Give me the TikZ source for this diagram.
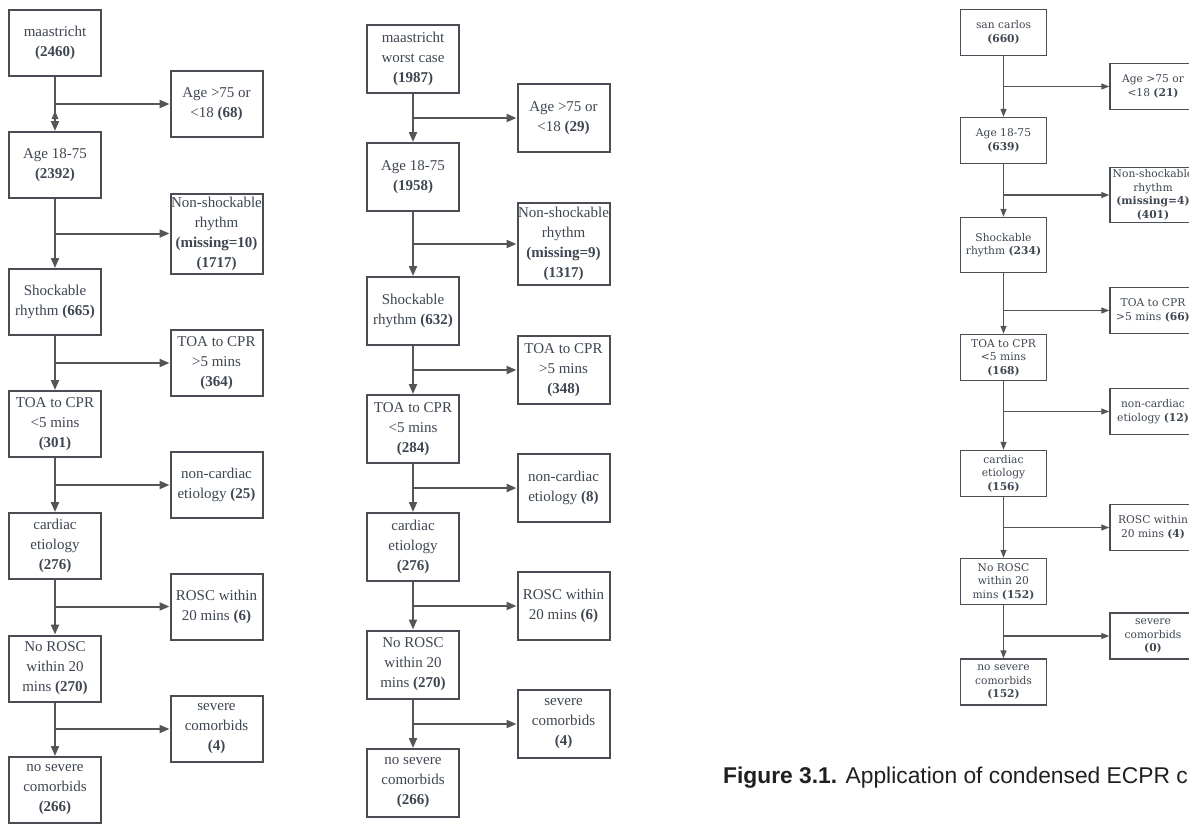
\documentclass[tikz,border=0pt]{standalone}
\usepackage{fontspec}
\setmainfont{Liberation Serif}
\newfontfamily\rfont{DejaVu Serif}
\newfontfamily\capfont{Liberation Sans}
\usetikzlibrary{arrows.meta,calc}
\definecolor{boxc}{HTML}{4A4E54}
\definecolor{txtc}{HTML}{3E4651}
\definecolor{linec}{HTML}{555555}
\begin{document}
\begin{tikzpicture}[x=1pt,y=-1pt,
  bx/.style={draw=boxc,line width=2pt,fill=white,minimum width=92pt,minimum height=66pt,inner sep=0pt,align=center,text=txtc,font=\fontsize{15}{20}\selectfont},
  rbx/.style={draw=boxc,line width=1.4pt,fill=white,minimum width=86pt,minimum height=46pt,inner sep=0pt,align=center,text=txtc,font=\rfont\fontsize{10.7}{13.5}\selectfont},
  arr/.style={draw=linec,line width=2pt,-{Triangle[length=10pt,width=8pt]}},
  rarr/.style={draw=linec,line width=1.3pt,-{Triangle[length=8pt,width=6pt]}},
]
\useasboundingbox (0,0) rectangle (1189,823);
\clip (0,0) rectangle (1189,823);

% ---------------- left column ----------------
\node[bx] (a1) at (55,43) {maastricht\\\textbf{(2460)}};
\node[bx] (a2) at (55,165) {Age 18-75\\\textbf{(2392)}};
\node[bx] (a3) at (55,302) {Shockable\\rhythm \textbf{(665)}};
\node[bx] (a4) at (55,424) {TOA to CPR\\<5 mins\\\textbf{(301)}};
\node[bx] (a5) at (55,546) {cardiac\\etiology\\\textbf{(276)}};
\node[bx] (a6) at (55,668.5) {No ROSC\\within 20\\mins \textbf{(270)}};
\node[bx] (a7) at (55,790) {no severe\\comorbids\\\textbf{(266)}};
\node[bx] (as1) at (216.5,104) {Age >75 or\\<18 \textbf{(68)}};
\node[bx,minimum height=80pt] (as2) at (216.5,233.5) {Non-shockable\\rhythm\\\textbf{(missing=10)}\\\textbf{(1717)}};
\node[bx] (as3) at (216.5,363) {TOA to CPR\\>5 mins\\\textbf{(364)}};
\node[bx] (as4) at (216.5,485) {non-cardiac\\etiology \textbf{(25)}};
\node[bx] (as5) at (216.5,606.5) {ROSC within\\20 mins \textbf{(6)}};
\node[bx] (as6) at (216.5,729) {severe\\comorbids\\\textbf{(4)}};
\foreach \i/\j in {1/2,2/3,3/4,4/5,5/6,6/7}{
  \draw[arr] (a\i.south) -- (a\j.north);
  \draw[arr] (a\i.south |- as\i.west) -- (as\i.west);
}
\fill[linec] ($(a2.north)+(0,-20)$) -- ++(-3.5,8) -- ++(7,0) -- cycle;

% ---------------- middle column ----------------
\node[bx,minimum height=68pt] (b1) at (413,58.5) {maastricht\\worst case\\\textbf{(1987)}};
\node[bx,minimum height=68pt] (b2) at (413,177) {Age 18-75\\\textbf{(1958)}};
\node[bx,minimum height=68pt] (b3) at (413,311) {Shockable\\rhythm \textbf{(632)}};
\node[bx,minimum height=68pt] (b4) at (413,429) {TOA to CPR\\<5 mins\\\textbf{(284)}};
\node[bx,minimum height=68pt] (b5) at (413,547) {cardiac\\etiology\\\textbf{(276)}};
\node[bx,minimum height=68pt] (b6) at (413,664.5) {No ROSC\\within 20\\mins \textbf{(270)}};
\node[bx,minimum height=68pt] (b7) at (413,783) {no severe\\comorbids\\\textbf{(266)}};
\node[bx,minimum height=68pt] (bs1) at (563.5,118) {Age >75 or\\<18 \textbf{(29)}};
\node[bx,minimum height=82pt] (bs2) at (563.5,244) {Non-shockable\\rhythm\\\textbf{(missing=9)}\\\textbf{(1317)}};
\node[bx,minimum height=68pt] (bs3) at (563.5,370) {TOA to CPR\\>5 mins\\\textbf{(348)}};
\node[bx,minimum height=68pt] (bs4) at (563.5,488) {non-cardiac\\etiology \textbf{(8)}};
\node[bx,minimum height=68pt] (bs5) at (563.5,606) {ROSC within\\20 mins \textbf{(6)}};
\node[bx,minimum height=68pt] (bs6) at (563.5,724) {severe\\comorbids\\\textbf{(4)}};
\foreach \i/\j in {1/2,2/3,3/4,4/5,5/6,6/7}{
  \draw[arr] (b\i.south) -- (b\j.north);
  \draw[arr] (b\i.south |- bs\i.west) -- (bs\i.west);
}

% ---------------- right column ----------------
\node[rbx] (c1) at (1003.5,32.5) {san carlos\\\textbf{(660)}};
\node[rbx] (c2) at (1003.5,140.5) {Age 18-75\\\textbf{(639)}};
\node[rbx,minimum height=55pt] (c3) at (1003.5,245) {Shockable\\rhythm \textbf{(234)}};
\node[rbx] (c4) at (1003.5,357.5) {TOA to CPR\\<5 mins\\\textbf{(168)}};
\node[rbx] (c5) at (1003.5,473.5) {cardiac\\etiology\\\textbf{(156)}};
\node[rbx] (c6) at (1003.5,581.5) {No ROSC\\within 20\\mins \textbf{(152)}};
\node[rbx] (c7) at (1003.5,682) {no severe\\comorbids\\\textbf{(152)}};
\node[rbx] (cs1) at (1153,86.5) {Age >75 or\\<18 \textbf{(21)}};
\node[rbx,minimum height=55pt] (cs2) at (1153,195) {Non-shockable\\rhythm\\\textbf{(missing=4)}\\\textbf{(401)}};
\node[rbx] (cs3) at (1153,310.5) {TOA to CPR\\>5 mins \textbf{(66)}};
\node[rbx] (cs4) at (1153,411.5) {non-cardiac\\etiology \textbf{(12)}};
\node[rbx] (cs5) at (1153,527.5) {ROSC within\\20 mins \textbf{(4)}};
\node[rbx] (cs6) at (1153,636) {severe\\comorbids\\\textbf{(0)}};
\foreach \i/\j in {1/2,2/3,3/4,4/5,5/6,6/7}{
  \draw[rarr] (c\i.south) -- (c\j.north);
  \draw[rarr] (c\i.south |- cs\i.west) -- (cs\i.west);
}

% ---------------- caption ----------------
\node[anchor=base west,inner sep=0pt,text=black!88,font=\capfont\fontsize{22.8}{27}\selectfont] (cap) at (723,783) {\textbf{Figure 3.1.} Application of condensed ECPR criteria};
\end{tikzpicture}
\end{document}
